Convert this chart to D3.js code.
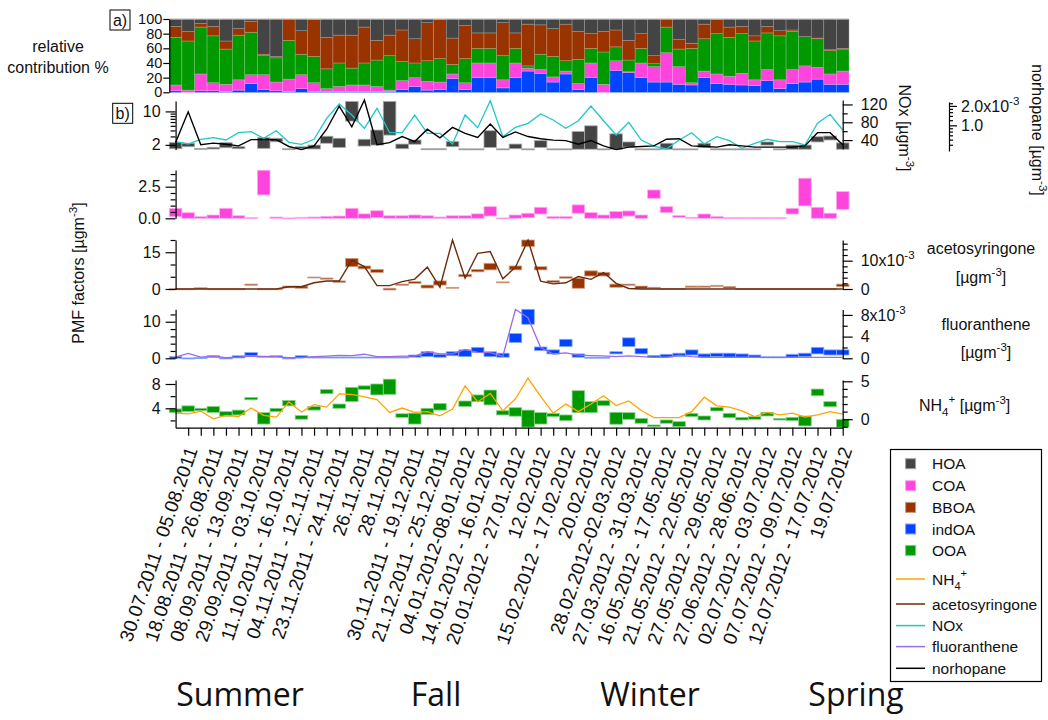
<!DOCTYPE html>
<html lang="en">
<head>
<meta charset="UTF-8">
<script src="https://cdn.jsdelivr.net/npm/d3@7"></script>
<title>PMF factors</title>
<style>
  body { margin: 0; background: #fff; }
  svg text { font-family: "Liberation Sans", Arial, sans-serif; fill: #111; }
</style>
</head>
<body>
<svg width="1048" height="720"></svg>
<script>
  // tick labels, one every second sample
  var periodLabels = ["30.07.2011 - 05.08.2011", "18.08.2011 - 26.08.2011", "08.09.2011 - 13.09.2011",
    "29.09.2011 - 03.10.2011", "11.10.2011 - 16.10.2011", "04.11.2011 - 12.11.2011", "23.11.2011 - 24.11.2011",
    "26.11.2011", "28.11.2011", "30.11.2011 - 19.12.2011", "21.12.2011 - 25.12.2011", "04.01.2012-08.01.2012",
    "14.01.2012 - 16.01.2012", "20.01.2012 - 27.01.2012", "12.02.2012", "15.02.2012 - 17.02.2012", "20.02.2012",
    "28.02.2012-02.03.2012", "27.03.2012 - 31.03.2012", "16.05.2012 - 17.05.2012", "21.05.2012 - 22.05.2012",
    "27.05.2012 - 29.05.2012", "27.06.2012 - 28.06.2012", "02.07.2012 - 03.07.2012", "07.07.2012 - 09.07.2012",
    "12.07.2012 - 17.07.2012", "19.07.2012"];
  var seasons = ["Summer", "Fall", "Winter", "Spring"];
  var seasonX = [240, 436, 650, 856];

  // a) relative contribution %
  var relInd = [2,0,2,2,1,3,12,4,2,1, 5,1,1,1,1,1,1,1,4,8, 3,4,19,4,20,20,6,20,29,26,
    14,25,4,20,0,30,27,20,14,14, 11,10,20,12,11,10,9,16,5,12, 14,18,11,11];
  var relCoa = [8,3,23,11,10,14,12,20,12,17, 19,12,4,7,9,9,7,2,12,12, 12,10,6,9,20,20,11,20,4,5,
    7,4,8,20,11,13,1,20,21,40, 24,3,9,13,11,16,8,15,12,19, 22,16,14,18];
  var relOoa = [65,67,64,64,48,61,58,26,33,53, 28,36,27,32,23,30,36,47,26,20, 28,32,13,33,20,20,33,20,3,21,
    28,14,33,20,44,19,16,20,4,35, 24,47,44,55,53,54,53,50,60,52, 40,39,32,29];
  var relBboa = [15,13,5,13,11,9,15,2,2,29, 32,50,43,38,45,49,27,28,43,33, 52,53,36,45,21,21,45,21,57,40,
    38,50,38,20,28,23,27,20,11,11, 13,7,20,19,14,10,7,9,7,2, 0,1,1,2];
  var relHoa = [10,17,6,10,30,13,3,48,51,0, 16,1,25,22,22,11,29,22,15,27, 5,1,26,9,19,19,5,19,7,8,
    13,7,17,20,17,15,29,20,50,0, 28,33,7,1,11,10,23,10,16,15, 24,26,42,40];

  // b) PMF factors [µg m-3], floating bars low / high
  var hoaLo = [1.66,1.83,1.61,1.64,1.74,1.66,null,1.69,2.32,1.61, 1.66,1.64,2.16,1.77,6.28,1.89,1.98,3.2,1.66,2.06,
    1.61,1.61,1.83,1.61,1.61,1.77,1.61,1.66,1.61,1.77, 1.61,1.61,1.62,1.62,1.61,1.62,1.8,1.61,1.61,1.62,
    1.61,1.61,1.77,1.61,1.61,1.61,1.61,1.98,1.61,1.62, 1.62,2.3,2.53,1.62];
  var hoaHi = [2.23,2.16,1.69,1.78,2.22,1.83,null,2.83,2.75,1.66, 1.83,1.98,3.03,2.75,16.2,2.62,4.08,16.2,2.08,2.53,
    1.66,1.66,2.34,1.65,1.65,3.95,1.65,2.08,1.65,2.45, 1.65,1.65,3.8,5.0,1.65,3.4,2.3,1.65,1.65,2.16,
    1.65,1.65,2.16,1.65,1.65,1.65,1.65,2.3,1.65,1.98, 1.98,2.96,3.06,2.2];
  var coaLo = [0.13,0,0,0,0,0,0,1.85,0,0, 0,0,0,0,0,0,0.05,0,0,0, 0,0,0,0,0,0.18,0,0,0.05,0.34,
    0,0,0.4,0,0,0,0.18,0,1.58,0.45, 0.08,0,0,0,0,0,0,0,0,0.34, 0.98,0,0,0.71];
  var coaHi = [0.79,0.44,0.13,0.26,0.79,0.2,0.05,3.8,0.1,0.03, 0.08,0.1,0.15,0.18,0.79,0.35,0.6,0.2,0.2,0.26,
    0.2,0.1,0.2,0.2,0.35,0.92,0.03,0.26,0.4,0.87, 0.13,0.13,1.06,0.45,0.26,0.53,0.58,0.26,2.24,0.92,
    0.21,0.08,0.34,0.13,0.05,0.05,0.05,0.05,0.05,0.79, 3.17,0.87,0.4,2.11];
  var bboaLo = [0,0,0,0,0,0,1.5,0,0,0.5, 0.3,4.5,4.0,2.7,9.1,8.2,6.7,-0.4,1.5,2.3, 0.4,1.6,0.3,5.0,7.0,7.8,2.5,7.8,17.3,7.8,
    2.7,4.4,0.3,5.3,5.3,0.7,1.5,0.1,0.1,0, 0,0.7,0.7,1.0,0.4,0,0,0,0,0, 0,0,0,1.0];
  var bboaHi = [0.1,0.1,0.5,0.1,0.1,0.1,2.0,0.1,0.1,1.2, 1.2,4.9,4.5,3.3,12.5,9.4,8.0,0.3,2.0,3.0,
    1.6,3.3,0.7,6.0,8.0,10.5,2.9,9.4,20,9.1, 3.4,5.0,4.4,7.4,6.8,2.0,2.0,1.2,0.7,0.2,
    0.2,1.2,1.2,1.5,1.0,0.15,0.15,0.15,0.15,0.15, 0.15,0.15,0.15,2.0];
  var indLo = [0,0,0,0.2,0,0.1,0.7,0.3,0.3,0, 0.2,0.1,0.1,0.1,0.1,0.1,0.1,0.1,0.1,0.3,
    0.45,0.3,0.7,0.45,1.6,0.45,0.3,4.3,9.3,2.1, 1.2,3.2,0.3,0.1,0.1,1.2,3.2,1.2,0.3,0.3,
    0.45,0.9,0.3,0.45,0.3,0.3,0.3,0.2,0.2,0.3, 0.45,1.2,0.9,0.9];
  var indHi = [0.45,0.1,0.2,0.7,0.1,0.7,1.6,0.6,0.7,0.1, 0.7,0.35,0.35,0.35,0.35,0.35,0.35,0.35,0.35,0.9,
    1.8,1.1,1.8,2.3,3.0,1.8,1.4,6.8,13.4,3.1, 2.3,5.2,1.2,0.3,0.3,1.8,5.6,2.7,0.8,1.1,
    1.4,2.3,1.2,1.4,1.4,1.2,0.9,0.4,0.4,1.1, 1.4,3.0,2.3,2.3];
  var ooaLo = [3.3,3.45,3.6,3.3,2.7,2.9,5.4,1.4,3.45,4.4, 2.2,3.7,6.4,4.0,5.1,7.1,6.2,6.3,2.5,1.4,
    3.0,3.7,null,4.3,5.1,4.55,2.9,2.7,0.9,1.4, 2.62,1.96,3.28,3.28,4.43,1.37,2.18,1.53,0.98,1.53,
    0.98,2.62,2.07,3.56,2.45,2.07,2.18,2.73,2.07,1.96, 1.09,6.07,4.26,0.88];
  var ooaHi = [3.9,4.4,4.0,4.3,3.45,3.7,5.8,3.3,4.0,5.3, 2.8,4.3,7.1,4.7,7.45,7.7,8.0,8.8,3.1,3.2,
    4.0,4.8,null,5.2,6.2,7.0,3.6,4.1,3.7,3.3, 3.17,2.9,6.9,5.09,5.25,3.34,3.28,2.34,1.25,2.07,
    1.8,3.17,2.73,4.15,3.17,2.51,2.62,3.34,2.34,2.51, 2.73,7.17,5.09,2.18];

  // tracers
  var nox = [36.4,31.2,41.8,45.4,40.2,56.6,58.9,44,61.1,35, 30.5,41.8,88.9,121,96.3,66.4,111.4,56.6,56.6,96.3,
    55.2,55.2,31.2,96.3,67.9,128.5,47.6,68.6,77.7,98.6, 85.1,66.4,83.5,116.5,83.5,51.4,79.9,40.2,26.7,20,
    40.2,56.6,31.2,47.6,38.6,21.5,32.8,41.8,36.4,36.4, 29,77.7,97.9,62.7];
  // x10^-3 µg m-3
  var norhopane = [0.54,1.62,0.5,0.53,0.51,0.48,0.6,0.6,0.6,0.47, 0.42,0.48,0.87,1.99,0.95,2.47,0.5,0.54,0.67,0.56,
    0.87,0.64,0.93,0.75,0.65,1.05,0.65,0.79,0.67,0.62, 0.59,0.58,0.51,0.58,0.48,0.42,0.46,0.47,0.48,0.61,
    0.62,0.48,0.47,0.46,0.5,0.48,0.46,0.46,0.46,0.46, 0.48,0.77,0.77,0.5];
  var acetosyringone = [0,0,0,0,0,0,0,0,0,0.8, 0.8,2.2,2.8,2.8,10.2,7.9,1.2,1.2,2.6,3.5,
    7.7,0.6,17.3,3.8,12.6,13.2,3.6,7.7,17.2,2.8, 1.8,2.2,4.4,3.4,5.8,2.0,0.2,0,0,0,
    0,0,0,0,0,0,0,0,0,0, 0,0,0,0];
  var fluoranthene = [0.2,0.9,0.2,0.4,0.1,0.2,0.4,0.3,0.3,0.1, 0.1,0.3,0.4,0.55,0.5,0.75,0.3,0.3,0.4,0.4,
    1.2,0.8,0.8,1.65,1.1,1.05,0.4,9.0,7.5,2.0, 0.8,1.0,0.6,0.5,0.43,0.3,0.43,0.3,0.18,0.18,
    0.6,0.3,0.18,0.18,0.18,0.18,0.18,0.18,0.18,0.18, 0.18,0.18,0.18,0.18];
  var nh4 = [0.8,0.7,1.07,0.05,0.5,0.36,1.47,0.5,0.27,2.28, 0.94,1.92,1.6,3.35,3.26,2.95,2.6,0.9,1.47,0.9,
    1.0,0.45,1.34,4.4,2.28,3.4,1.1,2.7,5.4,3.0, 0.8,2.0,1.0,2.0,3.1,1.8,2.4,1.15,0.22,0.22,
    0.22,1.0,2.9,1.77,1.6,1.1,0.35,0.9,0.57,0.8, 0.27,0.57,1.0,0.66];

  var col = { hoa: "#444444", coa: "#ff44dd", bboa: "#993300", ind: "#0044ff", ooa: "#009900",
    nh4: "#ffa500", aceto: "#6b2c0c", nox: "#1ec8c8", fluor: "#9b6be8", norh: "#000000" };

  var svg = d3.select("svg");
  var n = relInd.length;
  var x = d3.scaleBand().domain(d3.range(n)).range([169.3, 849]);
  var xc = d3.scalePoint().domain(d3.range(n)).range([169.3 + x.bandwidth() / 2, 849 - x.bandwidth() / 2]);
  var xL = xc(0), xR = xc(n - 1);

  function light(c, t) { return d3.interpolateRgb(c, "#fff")(t); }

  // ---- a) stacked relative contribution
  var yTop = d3.scaleLinear().domain([0, 100]).range([92.3, 19]);
  var rel = d3.range(n).map(function (i) {
    return { i: i, ind: relInd[i], coa: relCoa[i], ooa: relOoa[i], bboa: relBboa[i], hoa: relHoa[i] };
  });
  var series = d3.stack().keys(["ind", "coa", "ooa", "bboa", "hoa"])(rel);
  svg.append("g").selectAll("g").data(series).join("g")
    .attr("fill", function (d) { return col[d.key]; })
    .attr("stroke", function (d) { return light(col[d.key], 0.45); })
    .attr("stroke-width", 0.5)
    .selectAll("rect").data(function (d) { return d; }).join("rect")
    .attr("x", function (d) { return x(d.data.i); })
    .attr("width", x.bandwidth())
    .attr("y", function (d) { return yTop(d[1]); })
    .attr("height", function (d) { return yTop(d[0]) - yTop(d[1]); });
  svg.append("line").attr("x1", 169.3).attr("x2", 849).attr("y1", yTop(100)).attr("y2", yTop(100))
    .attr("stroke", "#cfcfcf");

  // ---- scales of the lower panels
  var yHoa = d3.scaleLog().domain([1.6, 16.5]).range([149.5, 101]);
  var yNox = d3.scaleLinear().domain([20, 130]).range([149, 100]);
  var yNorh = d3.scaleLog().domain([0.4, 2.3]).range([151, 102]);
  var yCoa = d3.scaleLinear().domain([0, 3.82]).range([218.3, 170]);
  var yBboa = d3.scaleLinear().domain([0, 20]).range([289, 240]);
  var yAceto = d3.scaleLinear().domain([0, 17.3]).range([289, 240]);
  var yInd = d3.scaleLinear().domain([0, 13.4]).range([358.3, 309.3]);
  var yFluor = d3.scaleLinear().domain([0, 9.0]).range([358.3, 309.5]);
  var yOoa = d3.scaleLinear().domain([0.8, 8.66]).range([427.7, 380]);
  var yNh4 = d3.scaleLinear().domain([-1.12, 5.17]).range([427.7, 380]);

  function floatBars(lo, hi, y, c) {
    svg.append("g").selectAll("rect")
      .data(d3.range(n).filter(function (i) { return lo[i] != null; }))
      .join("rect")
      .attr("x", function (i) { return x(i); })
      .attr("width", x.bandwidth())
      .attr("y", function (i) { return y(hi[i]); })
      .attr("height", function (i) { return Math.max(1, y(lo[i]) - y(hi[i])); })
      .attr("fill", c)
      .attr("stroke", light(c, 0.55))
      .attr("stroke-width", 0.8);
  }
  function addLine(vals, y, c, w) {
    svg.append("path").datum(d3.range(n))
      .attr("d", d3.line().x(function (i) { return xc(i); }).y(function (i) { return y(vals[i]); }))
      .attr("fill", "none").attr("stroke", c).attr("stroke-width", w);
  }

  floatBars(hoaLo, hoaHi, yHoa, col.hoa);
  floatBars(coaLo, coaHi, yCoa, col.coa);
  floatBars(bboaLo, bboaHi, yBboa, col.bboa);
  floatBars(indLo, indHi, yInd, col.ind);
  floatBars(ooaLo, ooaHi, yOoa, col.ooa);

  addLine(nox, yNox, col.nox, 1.3);
  addLine(norhopane, yNorh, col.norh, 1.4);
  addLine(acetosyringone, yAceto, col.aceto, 1.4);
  addLine(fluoranthene, yFluor, col.fluor, 1.3);
  addLine(nh4, yNh4, col.nh4, 1.3);

  // ---- axes
  function sup(sel, base, s, tail) {
    sel.text(base);
    sel.append("tspan").attr("dy", -7).attr("font-size", "0.72em").text(s);
    if (tail) sel.append("tspan").attr("dy", 7).text(tail);
  }
  function axis(fn, y, xPos, majors, minors, fmt, majLen, minLen, pad, fs) {
    if (minors.length) {
      svg.append("g").attr("transform", "translate(" + xPos + ",0)")
        .call(fn(y).tickValues(minors).tickSize(minLen).tickSizeOuter(0).tickFormat(""))
        .call(function (g) { g.select(".domain").remove(); g.selectAll("text").remove(); })
        .selectAll("line").attr("stroke", "#000").attr("stroke-width", 1.2);
    }
    var g = svg.append("g").attr("transform", "translate(" + xPos + ",0)")
      .call(fn(y).tickValues(majors).tickSize(majLen).tickSizeOuter(0).tickPadding(pad).tickFormat(fmt));
    g.attr("font-size", fs || 16).attr("font-family", "'Liberation Sans', Arial, sans-serif");
    g.selectAll("line, path").attr("stroke", "#000").attr("stroke-width", 1.2);
    g.selectAll("text").attr("fill", "#111");
    return g;
  }
  var L = d3.axisLeft, R = d3.axisRight;
  axis(L, yTop, 169.3, [0, 20, 40, 60, 80, 100], [], d3.format("d"), 6, 3, 1, 14.5);
  axis(L, yHoa, xL, [2, 10], [3, 4, 5, 6, 7, 8, 9], d3.format("d"), 10, 5, 5);
  axis(L, yCoa, xL, [0, 2.5], [0.5, 1, 1.5, 2, 3, 3.5], d3.format(".1f"), 10, 5, 5);
  axis(L, yBboa, xL, [0, 15], [5, 10, 20], d3.format("d"), 10, 5, 5);
  axis(L, yInd, xL, [0, 10], [2, 4, 6, 8, 12], d3.format("d"), 10, 5, 5);
  axis(L, yOoa, xL, [4, 8], [2, 6], d3.format("d"), 10, 5, 5);

  axis(R, yNox, xR, [40, 80, 120], [60, 100], d3.format("d"), 10, 5, 8);
  var ga = axis(R, yAceto, xR, [0, 10], [2, 4, 6, 8, 12, 14, 16], d3.format("d"), 10, 5, 8);
  ga.selectAll(".tick text").filter(function (d) { return d === 10; })
    .each(function () { sup(d3.select(this), "10x10", "-3"); });
  var gf = axis(R, yFluor, xR, [0, 4, 8], [2, 6], d3.format("d"), 10, 5, 8);
  gf.selectAll(".tick text").filter(function (d) { return d === 8; })
    .each(function () { sup(d3.select(this), "8x10", "-3"); });
  axis(R, yNh4, xR, [0, 5], [-1, 1, 2, 3, 4], d3.format("d"), 10, 5, 8);
  var gn = axis(R, yNorh, 949, [1, 2], [0.5, 0.6, 0.7, 0.8, 0.9, 1.2, 1.4, 1.6, 1.8, 2.2], d3.format(".1f"), 8, 4, 4);
  gn.selectAll(".tick text").filter(function (d) { return d === 2; })
    .each(function () { sup(d3.select(this), "2.0x10", "-3"); });

  // bottom category axis
  var gx = svg.append("g").attr("transform", "translate(0," + yOoa.range()[0] + ")")
    .call(d3.axisBottom(xc).tickValues(d3.range(1, n)).tickSize(8).tickSizeOuter(0)
      .tickFormat(function (i) { return i % 2 === 1 ? periodLabels[(i - 1) / 2] : ""; }));
  gx.attr("font-size", 19).attr("font-family", "'Liberation Sans', Arial, sans-serif");
  gx.selectAll("line, path").attr("stroke", "#000").attr("stroke-width", 1.2);
  gx.selectAll(".tick text").filter(function (i) { return i % 2 === 0; }).remove();
  gx.selectAll(".tick text").attr("fill", "#111").attr("x", 0).attr("y", 0).attr("dy", "0.35em")
    .attr("text-anchor", "end").attr("transform", "translate(3,20) rotate(-71)");

  // ---- titles and labels
  function label(xp, yp, txt, opt) {
    var t = svg.append("text").attr("x", xp).attr("y", yp).attr("font-size", (opt && opt.size) || 16)
      .attr("text-anchor", (opt && opt.anchor) || "middle").text(txt);
    if (opt && opt.rot) t.attr("transform", "rotate(" + opt.rot + "," + xp + "," + yp + ")");
    return t;
  }
  label(58, 52, "relative");
  label(58, 73, "contribution %");
  sup(label(84, 273, "", { rot: -90 }), "PMF factors [µgm", "-3", "]");
  sup(label(899, 128, "", { rot: 90 }), "NOx [µgm", "-3", "]");
  sup(label(1032, 130, "", { rot: 90 }), "norhopane [µgm", "-3", "]");
  label(981, 254, "acetosyringone");
  sup(label(981, 283, ""), "[µgm", "-3", "]");
  label(986, 330, "fluoranthene");
  sup(label(986, 358, ""), "[µgm", "-3", "]");
  var nh = label(919, 411, "NH", { anchor: "start" });
  nh.append("tspan").attr("dy", 5).attr("font-size", "0.72em").text("4");
  nh.append("tspan").attr("dy", -13).attr("font-size", "0.72em").text("+");
  nh.append("tspan").attr("dy", 8).text(" [µgm");
  nh.append("tspan").attr("dy", -7).attr("font-size", "0.72em").text("-3");
  nh.append("tspan").attr("dy", 7).text("]");

  // panel tags
  [["a)", 110, 10], ["b)", 112.7, 103.3]].forEach(function (p) {
    svg.append("rect").attr("x", p[1]).attr("y", p[2]).attr("width", 20).attr("height", 20)
      .attr("fill", "none").attr("stroke", "#000").attr("stroke-width", 1);
    label(p[1] + 10, p[2] + 16, p[0]);
  });

  // seasons
  svg.append("g").selectAll("text").data(seasons).join("text")
    .attr("x", function (d, i) { return seasonX[i]; }).attr("y", 706)
    .attr("text-anchor", "middle").attr("font-size", 32)
    .style("font-family", "'Open Sans', sans-serif").text(function (d) { return d; });

  // ---- legend
  var legItems = [
    { k: "HOA", c: col.hoa, t: "box" }, { k: "COA", c: col.coa, t: "box" }, { k: "BBOA", c: col.bboa, t: "box" },
    { k: "indOA", c: col.ind, t: "box" }, { k: "OOA", c: col.ooa, t: "box" }, { k: "NH4", c: col.nh4, t: "line" },
    { k: "acetosyringone", c: col.aceto, t: "line" }, { k: "NOx", c: col.nox, t: "line" },
    { k: "fluoranthene", c: col.fluor, t: "line" }, { k: "norhopane", c: col.norh, t: "line" }];
  var legY = [463.7, 485.7, 507.4, 529, 550.4, 579, 604, 625.6, 646.6, 668.3];
  var lg = svg.append("g");
  lg.append("rect").attr("x", 890.5).attr("y", 449.5).attr("width", 151).attr("height", 232)
    .attr("fill", "#fff").attr("stroke", "#000").attr("stroke-width", 1.2);
  var li = lg.selectAll("g.item").data(legItems).join("g").attr("class", "item")
    .attr("transform", function (d, i) { return "translate(0," + legY[i] + ")"; });
  li.filter(function (d) { return d.t === "box"; }).append("rect")
    .attr("x", 905.6).attr("y", -5).attr("width", 10).attr("height", 10)
    .attr("fill", function (d) { return d.c; }).attr("stroke", function (d) { return light(d.c, 0.5); });
  li.filter(function (d) { return d.t === "line"; }).append("line")
    .attr("x1", 896).attr("x2", 925).attr("stroke", function (d) { return d.c; }).attr("stroke-width", 1.5);
  li.append("text").attr("x", 932).attr("dy", "0.36em").attr("font-size", 15.5)
    .each(function (d) {
      var t = d3.select(this);
      if (d.k === "NH4") {
        t.text("NH");
        t.append("tspan").attr("dy", 5).attr("font-size", "0.72em").text("4");
        t.append("tspan").attr("dy", -13).attr("font-size", "0.72em").text("+");
      } else t.text(d.k);
    });
</script>
</body>
</html>
